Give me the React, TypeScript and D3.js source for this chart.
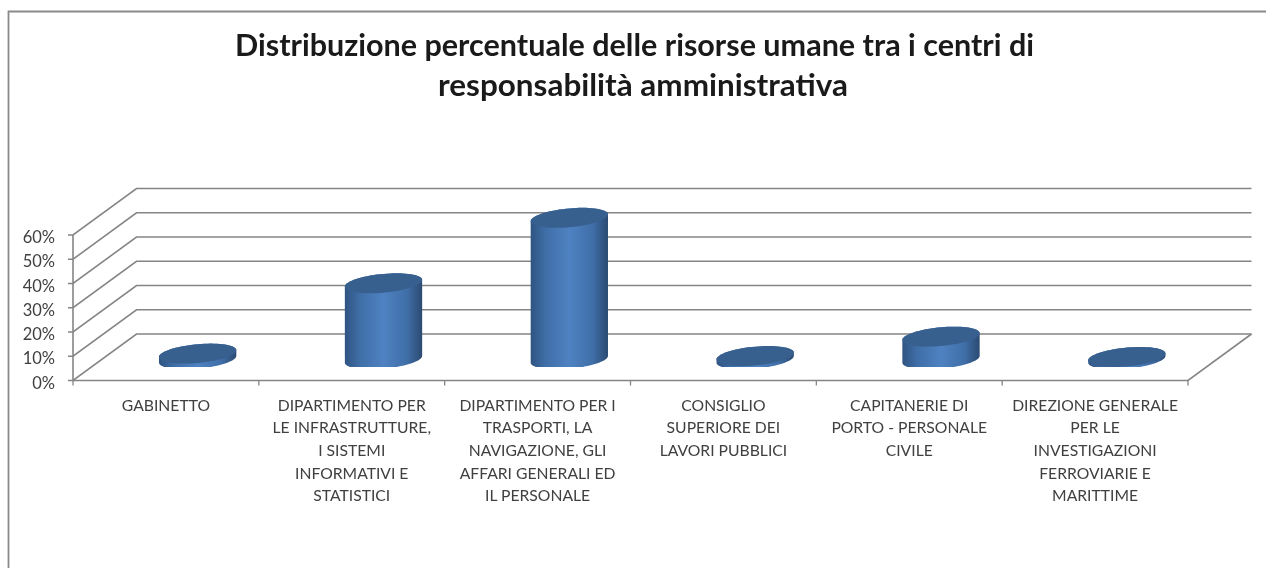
import React from "react";
import * as d3 from "d3";

const titleLines = [
  "Distribuzione percentuale delle risorse umane tra i centri di",
  "responsabilità amministrativa",
];
const categories = ["GAB", "INF", "TRA", "CON", "CAP", "DIR"];
const categoryLabels = [
  ["GABINETTO"],
  ["DIPARTIMENTO PER", "LE INFRASTRUTTURE,", "I SISTEMI", "INFORMATIVI E", "STATISTICI"],
  ["DIPARTIMENTO PER I", "TRASPORTI, LA", "NAVIGAZIONE, GLI", "AFFARI GENERALI ED", "IL PERSONALE"],
  ["CONSIGLIO", "SUPERIORE DEI", "LAVORI PUBBLICI"],
  ["CAPITANERIE DI", "PORTO - PERSONALE", "CIVILE"],
  ["DIREZIONE GENERALE", "PER LE", "INVESTIGAZIONI", "FERROVIARIE E", "MARITTIME"],
];
const values = [1.5, 30.5, 57.5, 0.5, 8.5, 0.1];
const yTicks = [0, 10, 20, 30, 40, 50, 60];

const W = 1266;
const H = 568;
const depthX = 63.5;
const depthY = -46.5;
const x = d3.scaleBand<string>().domain(categories).range([73, 1188]);
const y = d3.scaleLinear().domain([0, 60]).range([380.5, 235]);
const font = "Lato, 'Open Sans', sans-serif";
const floorClip = 367;
const titleLayout = [
  { cx: 634.5, width: 799 },
  { cx: 643, width: 410 },
];

const RX = x.bandwidth() * 0.208;
const RY = 9.4;
const SLANT = 3.4;

const ellipsePath = (cx: number, cy: number) => {
  const pts = d3.range(0, 73).map((i) => {
    const t = (i / 72) * Math.PI * 2;
    return [cx + RX * Math.cos(t), cy + RY * Math.sin(t) - SLANT * Math.cos(t)] as [number, number];
  });
  return d3.line()(pts) + "Z";
};

const bodyPath = (cx: number, top: number, bottom: number) => {
  const upper = d3.range(0, 37).map((i) => {
    const t = Math.PI + (i / 36) * Math.PI;
    return [cx + RX * Math.cos(t), top + RY * Math.sin(t) - SLANT * Math.cos(t)] as [number, number];
  });
  const lower = d3.range(0, 37).map((i) => {
    const t = (i / 36) * Math.PI;
    return [cx + RX * Math.cos(t), bottom + RY * Math.sin(t) - SLANT * Math.cos(t)] as [number, number];
  });
  return d3.line()([...upper, ...lower]) + "Z";
};

export default function App() {
  const edges = [...categories.map((c) => x(c) as number), 1188];
  const gridColor = "#858585";
  return (
    <svg
      width={W}
      height={H}
      viewBox={`0 0 ${W} ${H}`}
      style={{ position: "absolute", left: 0, top: 0, background: "#fff", filter: "blur(0.35px)" }}
    >
      <defs>
        <linearGradient id="cyl" x1="0" x2="1" y1="0" y2="0">
          <stop offset="0" stopColor="#2f5482" />
          <stop offset="0.2" stopColor="#406fa8" />
          <stop offset="0.5" stopColor="#4f82c2" />
          <stop offset="0.8" stopColor="#406fa8" />
          <stop offset="1" stopColor="#2b4a72" />
        </linearGradient>
        <clipPath id="floor">
          <rect x={0} y={0} width={W} height={floorClip} />
        </clipPath>
      </defs>

      <path d={`M8.5,${H}V11.5H${W}`} fill="none" stroke="#8a8a8a" strokeWidth={1.8} />

      {titleLines.map((t, i) => (
        <text
          key={t}
          x={titleLayout[i].cx}
          y={55.5 + i * 40.3}
          textAnchor="middle"
          textLength={titleLayout[i].width}
          lengthAdjust="spacingAndGlyphs"
          fontFamily={font}
          fontWeight={700}
          fontSize={30.4}
          fill="#1a1a1a"
        >
          {t}
        </text>
      ))}

      {yTicks.map((t) => (
        <g key={t}>
          <path
            d={`M68,${y(t)}H${73}L${73 + depthX},${y(t) + depthY}H${1188 + depthX}`}
            fill="none"
            stroke={gridColor}
            strokeWidth={1.6}
          />
          <text
            x={55}
            y={y(t) + 8}
            textAnchor="end"
            fontFamily={font}
            fontSize={16.5}
            fill="#404040"
          >
            {t}%
          </text>
        </g>
      ))}

      <path d={`M73,${y(60)}V${y(0)}H1188L${1188 + depthX},${y(0) + depthY}`} fill="none" stroke={gridColor} strokeWidth={1.6} />
      {edges.map((e) => (
        <line key={e} x1={e} x2={e} y1={y(0)} y2={y(0) + 5} stroke={gridColor} strokeWidth={1.3} />
      ))}

      {categories.map((c, i) => {
        const cx = (x(c) as number) + x.bandwidth() / 2 + depthX / 2;
        const base = y(0) + depthY / 2;
        const top = y(values[i]) + depthY / 2;
        return (
          <g key={c} clipPath="url(#floor)">
            <path d={bodyPath(cx, top, base + 2)} fill="url(#cyl)" />
            <path d={ellipsePath(cx, top)} fill="#38608f" />
          </g>
        );
      })}

      {categoryLabels.map((lines, i) => {
        const cx = (x(categories[i]) as number) + x.bandwidth() / 2;
        return lines.map((l, j) => (
          <text
            key={l}
            x={cx}
            y={410.5 + j * 22.7}
            textAnchor="middle"
            fontFamily={font}
            fontSize={15.7}
            fill="#404040"
          >
            {l}
          </text>
        ));
      })}
    </svg>
  );
}
